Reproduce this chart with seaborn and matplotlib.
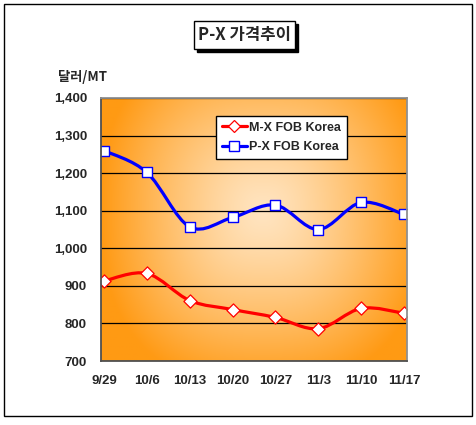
import numpy as np
import seaborn as sns
import matplotlib
matplotlib.use("Agg")
from matplotlib import pyplot as plt
from matplotlib.path import Path
from matplotlib.patches import PathPatch, Rectangle
from matplotlib.lines import Line2D

# data
dates = ["9/29", "10/6", "10/13", "10/20", "10/27", "11/3", "11/10", "11/17"]
mx_fob = [913, 933, 861, 837, 816, 786, 840, 827]
px_fob = [1260, 1202, 1057, 1082, 1115, 1050, 1122, 1090]
y_ticks = [700, 800, 900, 1000, 1100, 1200, 1300, 1400]

sns.set_style("white")
plt.rcParams["font.family"] = ["Liberation Sans", "DejaVu Sans"]

fig = plt.figure(figsize=(4.77, 4.25), dpi=100)
ax = fig.add_axes([101 / 477, 1 - 361 / 425, 306 / 477, 263 / 425])

# orange "from centre" gradient fill of the plot area
gx, gy = np.meshgrid(np.linspace(0, 1, 300), np.linspace(0, 1, 300))
u = np.abs(gx - 0.53) / 0.53
v = np.abs(gy - 0.57) / 0.57 * 0.85
t = np.clip((u ** 2.5 + v ** 2.5) ** (1 / 2.5), 0, 1) ** 1.3
edge = np.array([255, 154, 20]) / 255
centre = np.array([255, 228, 192]) / 255
img = centre + (edge - centre) * t[..., None]
ax.imshow(img, extent=[0, 1, 0, 1], transform=ax.transAxes, aspect="auto",
          origin="lower", zorder=-1)


def smooth_path(xs, ys):
    # Excel-like smoothed line: bezier segments through every point
    pts = np.column_stack([xs, ys]).astype(float)
    verts = [pts[0]]
    codes = [Path.MOVETO]
    n = len(pts)
    for i in range(n - 1):
        p0 = pts[max(i - 1, 0)]
        p1 = pts[i]
        p2 = pts[i + 1]
        p3 = pts[min(i + 2, n - 1)]
        verts += [p1 + (p2 - p0) / 6, p2 - (p3 - p1) / 6, p2]
        codes += [Path.CURVE4] * 3
    return Path(verts, codes)


xpos = np.arange(len(dates))
for vals, col in [(mx_fob, "#FF0000"), (px_fob, "#0000FF")]:
    ax.add_patch(PathPatch(smooth_path(xpos, vals), fill=False, edgecolor=col,
                           lw=2.3, zorder=3, transform=ax.transData))

sns.scatterplot(x=xpos, y=mx_fob, marker="D", s=45, color="white",
                edgecolor="#FF0000", linewidth=0.9, zorder=4, ax=ax)
sns.scatterplot(x=xpos, y=px_fob, marker="s", s=55, color="white",
                edgecolor="#0000FF", linewidth=1.0, zorder=4, ax=ax)

ax.set_xlim(-0.07, 7.07)
ax.set_ylim(700, 1400)
ax.set_xticks(xpos)
ax.set_xticklabels(dates)
ax.set_yticks(y_ticks)
ax.set_yticklabels([f"{v:,}" for v in y_ticks])
ax.yaxis.grid(True, color="black", lw=0.9)
ax.xaxis.grid(False)
ax.tick_params(axis="y", length=0, pad=10, labelsize=9.5)
ax.tick_params(axis="x", direction="in", length=3, width=1, color="#404040",
               pad=10, labelsize=9.5)
for lab in ax.get_xticklabels() + ax.get_yticklabels():
    lab.set_fontweight("bold")
for side, sp in ax.spines.items():
    sp.set_visible(True)
    sp.set_linewidth(1.3)
    sp.set_color("#505050" if side in ("left", "bottom") else "#909090")
    sp.set_zorder(5)

handles = [
    Line2D([], [], color="#FF0000", lw=2.3, marker="D", markersize=6.5,
           markerfacecolor="white", markeredgecolor="#FF0000", markeredgewidth=0.9),
    Line2D([], [], color="#0000FF", lw=2.3, marker="s", markersize=7,
           markerfacecolor="white", markeredgecolor="#0000FF", markeredgewidth=1.0),
]
leg = ax.legend(handles, ["M-X FOB Korea", "P-X FOB Korea"], loc="upper left",
                bbox_to_anchor=(216 / 477, 1 - 116 / 425), bbox_transform=fig.transFigure,
                borderaxespad=0, fancybox=False, framealpha=1, edgecolor="black",
                handlelength=2.0, handletextpad=0.2, borderpad=0.45, labelspacing=0.6,
                prop={"weight": "bold", "size": 9})
leg.get_frame().set_linewidth(1.0)
leg.set_zorder(6)

# outer frame of the chart
fig.patches.append(Rectangle((4 / 477, 1 - 416 / 425), 468 / 477, 412 / 425,
                             transform=fig.transFigure, fill=False,
                             edgecolor="black", lw=1.0))

# title box with shadow
fig.patches.append(Rectangle((197 / 477, 1 - 52 / 425), 101 / 477, 28 / 425,
                             transform=fig.transFigure, facecolor="black",
                             edgecolor="black", lw=1.0))
fig.patches.append(Rectangle((194 / 477, 1 - 49 / 425), 101 / 477, 28 / 425,
                             transform=fig.transFigure, facecolor="white",
                             edgecolor="black", lw=1.0))
fig.text(244.5 / 477, 1 - 35 / 425, "P-X 가격추이", ha="center", va="center",
         fontsize=12, fontweight="bold", family=["Noto Sans CJK KR", "DejaVu Sans"])

fig.text(58 / 477, 1 - 77 / 425, "달러/MT", ha="left", va="center",
         fontsize=9.5, fontweight="bold", family=["Noto Sans CJK KR", "DejaVu Sans"])

fig.savefig("out.png", dpi=100)
